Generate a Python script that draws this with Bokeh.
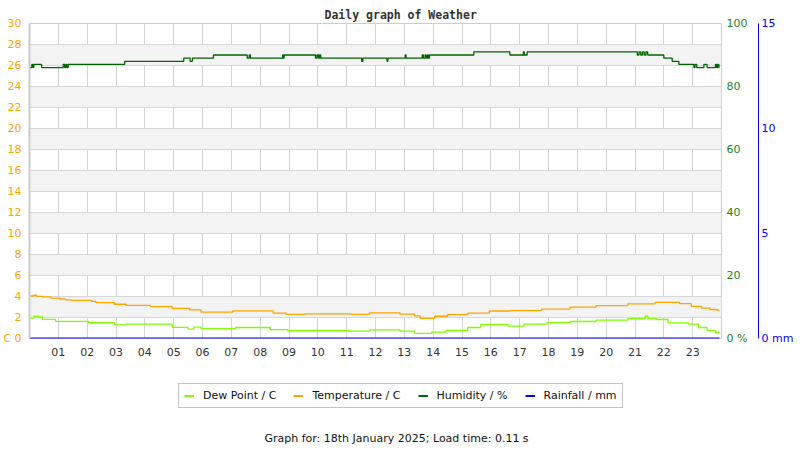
from bokeh.plotting import figure
from bokeh.models import Range1d, LinearAxis, FixedTicker, Legend, LegendItem, Label
from bokeh.layouts import column
from bokeh.embed import file_html
from bokeh.resources import INLINE

# ---------------- data ----------------
hour_ticks = list(range(1, 24))
hour_labels = ["01", "02", "03", "04", "05", "06", "07", "08", "09", "10", "11", "12",
               "13", "14", "15", "16", "17", "18", "19", "20", "21", "22", "23"]
temp_ticks = [0, 2, 4, 6, 8, 10, 12, 14, 16, 18, 20, 22, 24, 26, 28, 30]
hum_ticks = [0, 20, 40, 60, 80, 100]
rain_ticks = [0, 5, 10, 15]
temp_unit = "C"
hum_unit = "%"
rain_unit = "mm"

temp_t = [0.00, 0.15, 0.25, 0.45, 0.75, 1.05, 1.25, 1.45, 2.15, 2.30, 2.95, 3.35, 4.20,
          4.95, 5.55, 5.95, 7.05, 8.45, 8.90, 9.55, 11.15, 11.80, 12.85, 13.35, 13.55,
          14.05, 14.50, 15.20, 15.95, 16.70, 17.75, 18.75, 19.65, 20.75, 21.70, 22.55,
          22.95, 23.30, 23.60, 23.85, 23.93]
temp_v = [4.05, 4.12, 4.02, 3.96, 3.85, 3.76, 3.68, 3.64, 3.54, 3.42, 3.26, 3.15, 3.04,
          2.86, 2.72, 2.52, 2.63, 2.42, 2.30, 2.34, 2.30, 2.44, 2.32, 2.15, 1.92,
          2.12, 2.28, 2.42, 2.62, 2.66, 2.80, 2.98, 3.14, 3.30, 3.44, 3.32,
          3.06, 2.90, 2.76, 2.68, 2.68]

dew_t = [0.00, 0.15, 0.30, 0.45, 0.90, 2.05, 2.95, 3.35, 4.95, 5.50, 5.70, 5.95, 7.15,
         8.35, 8.95, 11.10, 11.80, 12.85, 13.35, 13.95, 14.45, 15.20, 15.65, 16.60, 17.15,
         17.95, 18.75, 19.65, 20.75, 21.35, 21.45, 21.75, 22.15, 22.85, 23.20, 23.50, 23.80, 23.93]
dew_v = [1.95, 2.12, 2.05, 1.82, 1.64, 1.50, 1.30, 1.37, 1.06, 0.90, 1.08, 0.95, 1.05,
         0.84, 0.74, 0.70, 0.83, 0.70, 0.48, 0.60, 0.76, 1.05, 1.33, 1.17, 1.37,
         1.52, 1.62, 1.75, 1.90, 2.12, 1.90, 1.81, 1.49, 1.37, 1.05, 0.75, 0.55, 0.55]

hum_t = [0.00, 0.08, 0.12, 0.15, 0.42, 1.17, 1.22, 1.26, 1.30, 1.34, 3.30, 5.35, 5.57,
         5.65, 6.38, 7.55, 7.62, 7.66, 8.78, 8.80, 8.83, 9.92, 9.97, 10.02, 10.06, 10.10,
         11.52, 11.56, 12.40, 12.43, 13.03, 13.06, 13.62, 13.66, 13.72, 13.76, 13.80,
         13.83, 13.87, 15.41, 16.66, 17.13, 17.16, 17.26, 21.08, 21.14, 21.20, 21.26,
         21.32, 21.38, 21.44, 22.00, 22.29, 22.52, 23.04, 23.08, 23.14, 23.39, 23.50,
         23.79, 23.83, 23.87, 23.91, 23.93]
hum_v = [86, 87, 86, 87, 86, 87, 86, 87, 86, 87, 88, 89, 88,
         89, 90, 89, 90, 89, 90, 89, 90, 89, 90, 89, 90, 89,
         88, 89, 88, 89, 90, 89, 90, 89, 90, 89, 90,
         89, 90, 91, 90, 91, 90, 91, 90, 91, 90, 91,
         90, 91, 90, 89, 88, 87, 86, 87, 86, 87, 86,
         87, 86, 87, 86, 86]

rain_t = [0.00, 23.93]
rain_v = [0.0, 0.0]

series_names = ["Dew Point / C", "Temperature / C", "Humidity / %", "Rainfall / mm"]
title_text = "Daily graph of Weather"
footer_text = "Graph for: 18th January 2025; Load time: 0.11 s"

# ---------------- styles ----------------
ORANGE = "#FFA500"
DEW = "#7FFF00"
HUM = "#006400"
HUM_AX = "#1f7f1f"
RAIN = "#0000FF"
FONT = "DejaVu Sans"
series_colors = [DEW, ORANGE, HUM, RAIN]
series_data = [(dew_t, dew_v), (temp_t, temp_v), (hum_t, hum_v), (rain_t, rain_v)]

p = figure(width=800, height=362, output_backend="svg", toolbar_location=None,
           x_range=Range1d(0, 24), y_range=Range1d(0, 30),
           min_border_left=29, min_border_right=79, min_border_top=23, min_border_bottom=24,
           background_fill_color="white", border_fill_color="white",
           outline_line_color="#cccccc", outline_line_width=1)

p.extra_y_ranges = {"hum": Range1d(0, 100), "rain": Range1d(0, 15)}

# title
p.title.text = title_text
p.title.align = "left"
p.title.offset = 295
p.title.text_font = "DejaVu Sans Mono"
p.title.text_font_size = "11.5px"
p.title.text_font_style = "bold"
p.title.text_color = "#333333"
p.title.standoff = 4

# x axis
xa = p.xaxis[0]
xa.ticker = FixedTicker(ticks=hour_ticks)
xa.major_label_overrides = {h: l for h, l in zip(hour_ticks, hour_labels)}
xa.major_tick_out = 0
xa.major_tick_in = 0
xa.minor_tick_line_color = None
xa.major_tick_line_color = None
xa.axis_line_color = None
xa.major_label_standoff = 9
xa.major_label_text_font = FONT
xa.major_label_text_font_size = "11px"
xa.major_label_text_color = "#333333"

# left axis
ya = p.yaxis[0]
ya.ticker = FixedTicker(ticks=temp_ticks)
ya.major_label_overrides = {0: temp_unit + " 0"}
ya.major_tick_out = 0
ya.major_tick_in = 0
ya.minor_tick_line_color = None
ya.major_tick_line_color = None
ya.axis_line_color = "#cccccc"
ya.axis_line_width = 2
ya.major_label_standoff = 8
ya.major_label_text_font = FONT
ya.major_label_text_font_size = "11px"
ya.major_label_text_color = ORANGE

# humidity axis
hum_axis = LinearAxis(y_range_name="hum", ticker=FixedTicker(ticks=hum_ticks),
                      major_label_overrides={0: "0 " + hum_unit},
                      major_tick_out=0, major_tick_in=0, minor_tick_line_color=None,
                      major_tick_line_color=None, axis_line_color=None,
                      major_label_standoff=5, major_label_text_font=FONT,
                      major_label_text_font_size="11px", major_label_text_color=HUM_AX,
                      axis_label=" ", axis_label_standoff=0,
                      axis_label_text_font_size="4.5px")
p.add_layout(hum_axis, "right")

rain_axis = LinearAxis(y_range_name="rain", ticker=FixedTicker(ticks=rain_ticks),
                       major_label_overrides={0: "0  " + rain_unit},
                       major_tick_out=0, major_tick_in=0, minor_tick_line_color=None,
                       major_tick_line_color=None, axis_line_color=RAIN, axis_line_width=1,
                       major_label_standoff=3, major_label_text_font=FONT,
                       major_label_text_font_size="11px", major_label_text_color=RAIN)
p.add_layout(rain_axis, "right")

# grids
p.xgrid.ticker = FixedTicker(ticks=hour_ticks)
p.xgrid.grid_line_color = "#d4d4d4"
p.ygrid.ticker = FixedTicker(ticks=temp_ticks)
p.ygrid.grid_line_color = "#d8d8d8"
p.ygrid.band_fill_color = "#f3f3f3"
p.ygrid.band_fill_alpha = 1.0

# series
p.step(dew_t, dew_v, mode="after", line_color=DEW, line_width=1.3)
p.step(temp_t, temp_v, mode="after", line_color=ORANGE, line_width=1.3)
p.step(hum_t, hum_v, mode="after", line_color=HUM, line_width=1.3, y_range_name="hum")
p.step(rain_t, rain_v, mode="after", line_color=RAIN, line_width=2, y_range_name="rain")

# ---------------- legend / footer strip ----------------
# x range in canvas pixels of the aligned frame (29..721)
q = figure(width=800, height=88, output_backend="svg", toolbar_location=None,
           x_range=Range1d(29, 721), y_range=Range1d(0, 88),
           x_axis_location=None, y_axis_location=None,
           min_border=0, min_border_left=0, min_border_right=0,
           min_border_top=0, min_border_bottom=0,
           background_fill_color="white", border_fill_color="white",
           outline_line_color=None)
q.xgrid.visible = False
q.ygrid.visible = False
# legend keys: the same series, on a range that keeps them out of view in this strip
q.extra_y_ranges = {"keys": Range1d(1000, 1001)}
key_renderers = [q.line(x=t, y=v, line_color=c, line_width=2, y_range_name="keys")
                 for (t, v), c in zip(series_data, series_colors)]
legend = Legend(items=[LegendItem(label=n, renderers=[r]) for n, r in
                       zip(series_names, key_renderers)],
                orientation="horizontal", location=(149, 42),
                glyph_width=10, glyph_height=13, label_height=13, label_standoff=9,
                spacing=17, padding=5, margin=0,
                label_text_font=FONT, label_text_font_size="11px", label_text_color="#111111",
                border_line_color="#888888", border_line_width=1,
                background_fill_color="white", background_fill_alpha=1.0)
q.add_layout(legend)

q.add_layout(Label(x=396, y=12, text=footer_text, text_font=FONT, text_font_size="11px",
                   text_color="#111111", text_align="center", text_baseline="middle"))

layout = column(p, q, spacing=0)
open("out.html", "w").write(file_html(layout, INLINE))
